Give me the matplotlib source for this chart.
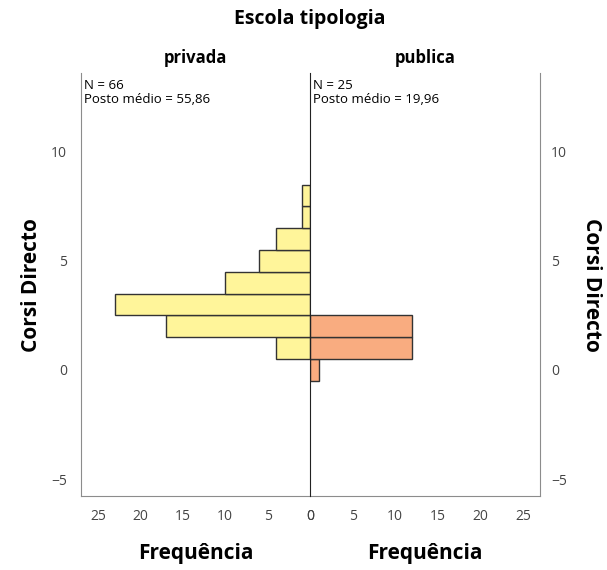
import numpy as np
import matplotlib.pyplot as plt

plt.rcParams['font.family'] = ['Open Sans', 'DejaVu Sans']

# dados
groups = ['privada', 'publica']
bins = [0, 1, 2, 3, 4, 5, 6, 7, 8]
freq_privada = [0, 4, 17, 23, 10, 6, 4, 1, 1]
freq_publica = [1, 12, 12, 0, 0, 0, 0, 0, 0]
n_text = ['N = 66\nPosto médio = 55,86', 'N = 25\nPosto médio = 19,96']
xticks = [0, 5, 10, 15, 20, 25]
yticks = [-5, 0, 5, 10]

colors = ['#FFF59A', '#F9AC80']
gray = '#8c8c8c'

fig = plt.figure(figsize=(6.07, 5.7), dpi=100)
ax1 = fig.add_axes([0.1334, 0.1298, 0.3773, 0.7421])
ax2 = fig.add_axes([0.5107, 0.1298, 0.3790, 0.7421])

for ax, freq, c in [(ax1, freq_privada, colors[0]), (ax2, freq_publica, colors[1])]:
    vals = np.array(freq)
    pos = np.array(bins)
    m = vals > 0
    ax.barh(pos[m], vals[m], height=1.0, color=c, edgecolor='#333333', linewidth=1.0)
    ax.set_ylim(-5.78, 13.62)
    ax.set_xticks(xticks)
    ax.set_yticks(yticks)
    ax.spines['top'].set_visible(False)
    ax.tick_params(length=0, labelsize=10, colors='#444444')
    ax.tick_params(axis='x', pad=9)
    ax.set_xlabel('Frequência', fontsize=15, fontweight='bold', labelpad=14)

ax1.set_xlim(27, 0)
ax2.set_xlim(0, 27)

ax1.spines['left'].set_color(gray)
ax1.spines['bottom'].set_color(gray)
ax1.spines['right'].set_visible(False)
ax1.tick_params(axis='y', pad=10)

# linha central
ax2.patch.set_alpha(0)
ax2.spines['left'].set_color('#222222')
ax2.spines['left'].set_zorder(5)
ax2.spines['bottom'].set_color(gray)
ax2.spines['right'].set_color(gray)
ax2.yaxis.tick_right()
ax2.tick_params(axis='y', pad=8)

fig.text(0.052, 0.5, 'Corsi Directo', fontsize=15, fontweight='bold', rotation=90,
         ha='center', va='center')
fig.text(0.975, 0.5, 'Corsi Directo', fontsize=15, fontweight='bold', rotation=270,
         ha='center', va='center')

for ax, g, t in zip([ax1, ax2], groups, n_text):
    ax.set_title(g, fontsize=12, fontweight='bold', pad=7)
    ax.text(0.012, 0.985, t, transform=ax.transAxes, fontsize=9.5, va='top', ha='left',
            linespacing=1.1)

fig.text(0.511, 0.966, 'Escola tipologia', fontsize=14, fontweight='bold', ha='center', va='center')

fig.savefig('out.png', dpi=100)
